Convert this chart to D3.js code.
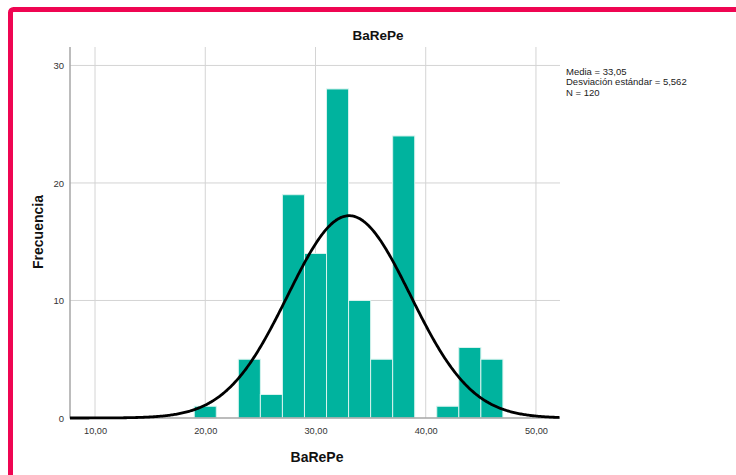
<!DOCTYPE html>
<html>
<head>
<meta charset="utf-8">
<script src="https://cdn.jsdelivr.net/npm/d3@7"></script>
<style>
  html, body { margin: 0; padding: 0; background: #fff; }
  svg { display: block; font-family: "Liberation Sans", Arial, sans-serif; }
</style>
</head>
<body>
<svg id="histogram-svg" width="736" height="475"></svg>
<script>
const MARGINTOP    = 47;
const MARGINRIGHT  = 176;
const MARGINBOTTOM = 57;
const MARGINLEFT   = 70;

// bins of BaRePe (width 2) and their counts
var binStarts = [19, 21, 23, 25, 27, 29, 31, 33, 35, 37, 39, 41, 43, 45];
var binCounts = [1, 0, 5, 2, 19, 14, 28, 10, 5, 24, 0, 1, 6, 5];
var binWidth  = 2;

var xTicks = [10, 20, 30, 40, 50];
var yTicks = [0, 10, 20, 30];

var stats = { media: 33.05, sd: 5.562, n: 120 };
var statLines = ["Media = 33,05", "Desviación estándar = 5,562", "N = 120"];

var xDomain = [7.73, 52.18];
var yDomain = [0, 31.57];

document.addEventListener('DOMContentLoaded', function(){
    drawChart();
}, false);

function getXRange(){
    return d3.scaleLinear()
        .range([MARGINLEFT, 736 - MARGINRIGHT])
        .domain(xDomain);
}

function getYRange(){
    return d3.scaleLinear()
        .range([475 - MARGINBOTTOM, MARGINTOP])
        .domain(yDomain);
}

function fmt(v){
    return d3.format(".2f")(v).replace(".", ",");
}

function drawChart(){
    var vis = d3.select("#histogram-svg");
    var xRange = getXRange();
    var yRange = getYRange();
    var bottom = 475 - MARGINBOTTOM;
    var right = 736 - MARGINRIGHT;

    // pink frame round the picture
    vis.append("rect")
        .attr("x", 10.5).attr("y", 9.5)
        .attr("width", 760).attr("height", 500)
        .attr("rx", 3)
        .attr("fill", "none")
        .attr("stroke", "#EF0552")
        .attr("stroke-width", 5);

    // grid
    vis.append("g").selectAll("line.vgrid")
        .data(xTicks).enter().append("line")
        .attr("x1", d => xRange(d)).attr("x2", d => xRange(d))
        .attr("y1", MARGINTOP).attr("y2", bottom)
        .attr("stroke", "#d4d4d4").attr("stroke-width", 1);

    vis.append("g").selectAll("line.hgrid")
        .data(yTicks.filter(d => d > 0)).enter().append("line")
        .attr("x1", MARGINLEFT).attr("x2", right)
        .attr("y1", d => yRange(d)).attr("y2", d => yRange(d))
        .attr("stroke", "#d4d4d4").attr("stroke-width", 1);

    // bars
    var bins = binStarts.map(function(s, i){ return { x0: s, x1: s + binWidth, count: binCounts[i] }; })
        .filter(d => d.count > 0);

    vis.append("g").selectAll("rect")
        .data(bins).enter().append("rect")
        .attr("x", d => xRange(d.x0))
        .attr("y", d => yRange(d.count))
        .attr("width", d => xRange(d.x1) - xRange(d.x0))
        .attr("height", d => bottom - yRange(d.count))
        .attr("fill", "#00B39E")
        .attr("stroke", "#d8f3ee")
        .attr("stroke-width", 1);

    // axes lines
    vis.append("line")
        .attr("x1", MARGINLEFT).attr("x2", MARGINLEFT)
        .attr("y1", MARGINTOP).attr("y2", bottom + 0.5)
        .attr("stroke", "#a6a6a6").attr("stroke-width", 1.5);
    vis.append("line")
        .attr("x1", MARGINLEFT).attr("x2", right)
        .attr("y1", bottom).attr("y2", bottom)
        .attr("stroke", "#a6a6a6").attr("stroke-width", 1.5);

    // normal curve scaled to counts, on top of the axis
    var curvePts = d3.range(xDomain[0], xDomain[1] + 0.01, 0.1);
    var normal = function(x){
        var z = (x - stats.media) / stats.sd;
        return stats.n * binWidth * Math.exp(-0.5 * z * z) / (stats.sd * Math.sqrt(2 * Math.PI));
    };
    var line = d3.line()
        .x(d => xRange(d))
        .y(d => yRange(normal(d)));

    vis.append("path")
        .datum(curvePts)
        .attr("d", line)
        .attr("fill", "none")
        .attr("stroke", "#000")
        .attr("stroke-width", 2.8)
        .attr("stroke-linejoin", "round");

    // tick labels
    var xAxis = d3.axisBottom().scale(xRange).tickValues(xTicks).tickSize(0).tickPadding(9).tickFormat(fmt);
    var xg = vis.append("g")
        .attr("transform", "translate(0," + bottom + ")")
        .call(xAxis);
    xg.select(".domain").remove();
    xg.selectAll("text")
        .attr("font-size", "9.2px")
        .attr("font-family", "Liberation Sans, Arial, sans-serif")
        .attr("fill", "#333");

    var yAxis = d3.axisLeft().scale(yRange).tickValues(yTicks).tickSize(0).tickPadding(6);
    var yg = vis.append("g")
        .attr("transform", "translate(" + MARGINLEFT + ",0)")
        .call(yAxis);
    yg.select(".domain").remove();
    yg.selectAll("text")
        .attr("font-size", "9.5px")
        .attr("font-family", "Liberation Sans, Arial, sans-serif")
        .attr("fill", "#333");

    // titles
    vis.append("text")
        .attr("x", 378).attr("y", 40)
        .attr("text-anchor", "middle")
        .attr("font-size", "13.5px").attr("font-weight", "bold")
        .attr("fill", "#111")
        .text("BaRePe");

    vis.append("text")
        .attr("x", 317).attr("y", 462)
        .attr("text-anchor", "middle")
        .attr("font-size", "14px").attr("font-weight", "bold")
        .attr("fill", "#111")
        .text("BaRePe");

    vis.append("text")
        .attr("transform", "translate(38,232) rotate(-90)")
        .attr("text-anchor", "middle")
        .attr("dy", "0.35em")
        .attr("font-size", "14px").attr("font-weight", "bold")
        .attr("fill", "#111")
        .text("Frecuencia");

    // stats box
    vis.append("g").selectAll("text")
        .data(statLines).enter().append("text")
        .attr("x", 566)
        .attr("y", (d, i) => 75 + i * 10.3)
        .attr("font-size", "9.5px")
        .attr("fill", "#222")
        .text(d => d);
}
</script>
</body>
</html>
